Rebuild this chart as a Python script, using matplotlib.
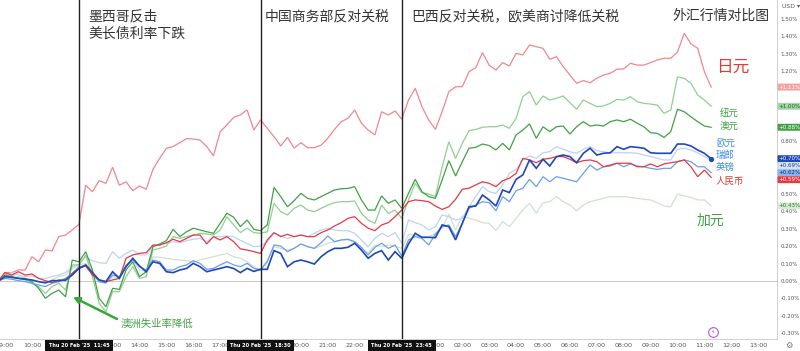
import matplotlib
matplotlib.use("Agg")
import matplotlib.pyplot as plt
from matplotlib.transforms import blended_transform_factory

plt.rcParams['font.family'] = ['Noto Sans CJK SC', 'DejaVu Sans']

# 15-minute closes, % change since 08:45 Thu 20 Feb 2025 (hours counted from 09:00)
t0 = -0.25
step = 0.25

jpy = [0, 0.048, 0.048, 0.063, 0.063, 0.139, 0.11, 0.177, 0.173, 0.254, 0.263, 0.292, 0.324, 0.548, 0.511,
       0.574, 0.559, 0.651, 0.548, 0.568, 0.517, 0.544, 0.525, 0.639, 0.702, 0.76, 0.77, 0.792, 0.815, 0.813,
       0.807, 0.769, 0.716, 0.855, 0.893, 0.937, 0.95, 0.979,
       0.864, 0.922, 0.874, 0.826, 0.773, 0.822, 0.76, 0.792, 0.763, 0.763, 0.778, 0.817, 0.868, 0.912, 0.931,
       0.979, 0.903, 0.864, 0.836, 0.969, 0.95, 0.973, 0.927, 1.036, 1.103, 0.998, 0.922, 0.868, 0.969, 1.084,
       1.112, 1.112, 1.198, 1.221, 1.307,
       1.235, 1.208, 1.25, 1.231, 1.303, 1.294, 1.351, 1.341, 1.332, 1.269, 1.284, 1.227, 1.179, 1.132, 1.147,
       1.135, 1.16, 1.179, 1.189, 1.212, 1.214, 1.246, 1.236, 1.236, 1.25, 1.265, 1.275, 1.275, 1.311, 1.418,
       1.357, 1.332, 1.198, 1.11]
nzd = [0, 0.025, 0.021, 0.015, 0.006, -0.013, -0.032, -0.071, -0.032, -0.013, -0.052, 0.092, 0.092, 0.149, 0.025,
       -0.128, -0.176, -0.061, -0.061, 0.025, 0.082, 0.015, 0.025, 0.177, 0.187, 0.2, 0.254, 0.244, 0.254, 0.263,
       0.273, 0.269, 0.263, 0.292, 0.368, 0.321, 0.277, 0.302,
       0.277, 0.273, 0.282, 0.445, 0.397, 0.378, 0.416, 0.435, 0.406, 0.397, 0.416, 0.435, 0.448, 0.454, 0.454,
       0.458, 0.387, 0.349, 0.33, 0.435, 0.387, 0.406, 0.359, 0.464, 0.559, 0.505, 0.498, 0.483, 0.654, 0.797,
       0.702, 0.788, 0.86, 0.868, 0.88,
       0.883, 0.883, 0.893, 0.874, 0.931, 1.055, 1.084, 1.007, 1.059, 1.036, 1.046, 1.059, 1.021, 0.983, 1.036,
       1.017, 0.998, 1.002, 1.017, 1.04, 1.036, 1.055, 1.026, 1.017, 1.013, 1.007, 0.96, 0.979, 1.169, 1.16,
       1.132, 1.065, 1.036, 1.0]
aud = [0, 0.034, 0.025, 0.015, 0.015, -0.004, -0.042, -0.099, -0.071, -0.052, -0.09, 0.12, 0.11, 0.168, 0.063,
       -0.099, -0.147, -0.042, -0.048, 0.063, 0.11, 0.025, 0.053, 0.196, 0.212, 0.231, 0.296, 0.254, 0.282, 0.302,
       0.292, 0.282, 0.273, 0.33, 0.388, 0.365, 0.311, 0.349,
       0.296, 0.288, 0.321, 0.536, 0.483, 0.425, 0.46, 0.502, 0.473, 0.464, 0.483, 0.502, 0.521, 0.528, 0.53,
       0.54, 0.464, 0.406, 0.406, 0.487, 0.445, 0.464, 0.416, 0.502, 0.582, 0.511, 0.483, 0.473, 0.578, 0.689,
       0.601, 0.683, 0.76, 0.765, 0.784,
       0.775, 0.75, 0.788, 0.75, 0.836, 0.864, 0.899, 0.817, 0.883, 0.855, 0.883, 0.887, 0.841, 0.883, 0.912,
       0.887, 0.893, 0.887, 0.912, 0.922, 0.912, 0.926, 0.903, 0.883, 0.849, 0.845, 0.822, 0.855, 0.983, 0.969,
       0.94, 0.912, 0.887, 0.88]
cad = [0, 0.025, 0.034, 0.025, 0.015, 0.006, -0.004, -0.013, 0.006, 0.025, 0.034, 0.072, 0.092, 0.101, 0.053,
       -0.004, -0.013, 0.025, 0.015, 0.082, 0.12, 0.063, 0.053, 0.139, 0.135, 0.13, 0.124, 0.12, 0.116, 0.11,
       0.12, 0.13, 0.139, 0.149, 0.158, 0.139, 0.13, 0.11,
       0.082, 0.063, 0.12, 0.196, 0.187, 0.177, 0.187, 0.212, 0.2, 0.187, 0.2, 0.216, 0.225, 0.235, 0.235,
       0.219, 0.187, 0.159, 0.206, 0.196, 0.206, 0.2, 0.187, 0.269, 0.258, 0.254, 0.254, 0.273, 0.302, 0.384,
       0.292, 0.372, 0.359, 0.349, 0.334,
       0.33, 0.288, 0.34, 0.311, 0.359, 0.406, 0.445, 0.388, 0.448, 0.454, 0.483, 0.454, 0.435, 0.402, 0.435,
       0.454, 0.464, 0.473, 0.483, 0.483, 0.483, 0.479, 0.473, 0.468, 0.464, 0.448, 0.429, 0.425, 0.498, 0.487,
       0.479, 0.464, 0.464, 0.43]
cny = [0, 0.048, 0.034, 0.053, 0.034, 0.04, 0.015, 0.002, -0.01, 0.006, 0.002, 0.044, 0.072, 0.086, 0.034,
       0.006, -0.004, 0.006, 0.015, 0.13, 0.149, 0.158, 0.162, 0.206, 0.206, 0.219, 0.239, 0.225, 0.244, 0.263,
       0.263, 0.212, 0.254, 0.235, 0.254, 0.225, 0.184, 0.177,
       0.168, 0.158, 0.235, 0.277, 0.254, 0.267, 0.254, 0.263, 0.254, 0.254, 0.277, 0.292, 0.315, 0.334, 0.359,
       0.368, 0.33, 0.302, 0.288, 0.321, 0.334, 0.368, 0.406, 0.454, 0.464, 0.46, 0.454, 0.429, 0.41, 0.425,
       0.468, 0.525, 0.531, 0.55, 0.568,
       0.559, 0.54, 0.574, 0.588, 0.616, 0.702, 0.693, 0.677, 0.697, 0.702, 0.712, 0.712, 0.697, 0.677, 0.689,
       0.693, 0.683, 0.654, 0.664, 0.674, 0.674, 0.674, 0.654, 0.654, 0.67, 0.654, 0.67, 0.677, 0.683, 0.693,
       0.654, 0.597, 0.635, 0.594]
eur = [0, 0.025, 0.021, 0.015, 0.01, 0.006, -0.004, -0.01, 0.002, 0.002, 0.006, 0.034, 0.072, 0.092, 0.048,
       0.006, -0.004, 0.053, 0.015, 0.082, 0.13, 0.086, 0.053, 0.11, 0.101, 0.053, 0.048, 0.063, 0.072, 0.101,
       0.082, 0.053, 0.063, 0.072, 0.082, 0.072, 0.048, 0.072,
       0.055, 0.067, 0.067, 0.174, 0.158, 0.082, 0.11, 0.12, 0.11, 0.097, 0.139, 0.168, 0.187, 0.187, 0.193,
       0.216, 0.177, 0.13, 0.158, 0.174, 0.12, 0.168, 0.13, 0.212, 0.273, 0.25, 0.25, 0.248, 0.321, 0.311,
       0.235, 0.33, 0.425, 0.429, 0.492,
       0.464, 0.429, 0.521, 0.506, 0.582, 0.607, 0.693, 0.645, 0.697, 0.658, 0.712, 0.721, 0.712, 0.677, 0.731,
       0.76, 0.721, 0.731, 0.734, 0.769, 0.754, 0.769, 0.765, 0.76, 0.734, 0.731, 0.731, 0.731, 0.784, 0.784,
       0.773, 0.75, 0.731, 0.70]
gbp = [0, 0.015, 0.01, 0.002, -0.004, -0.013, -0.023, -0.032, -0.013, -0.004, 0.015, 0.044, 0.082, 0.086, 0.044,
       -0.004, -0.01, 0.034, 0.025, 0.092, 0.12, 0.082, 0.063, 0.12, 0.11, 0.063, 0.063, 0.082, 0.092, 0.116,
       0.101, 0.067, 0.072, 0.092, 0.11, 0.092, 0.082, 0.101,
       0.073, 0.063, 0.11, 0.206, 0.2, 0.168, 0.187, 0.212, 0.196, 0.187, 0.219, 0.258, 0.225, 0.235, 0.239,
       0.225, 0.193, 0.149, 0.193, 0.216, 0.187, 0.206, 0.143, 0.235, 0.254, 0.244, 0.206, 0.269, 0.311, 0.321,
       0.254, 0.33, 0.416, 0.435, 0.454,
       0.448, 0.402, 0.483, 0.454, 0.517, 0.531, 0.582, 0.54, 0.597, 0.568, 0.597, 0.588, 0.578, 0.568, 0.616,
       0.664, 0.635, 0.654, 0.658, 0.674, 0.654, 0.67, 0.658, 0.654, 0.645, 0.639, 0.645, 0.645, 0.683, 0.693,
       0.683, 0.654, 0.654, 0.62]
chf = [0, 0.034, 0.048, 0.034, 0.025, 0.029, 0.015, 0.015, 0.025, 0.034, 0.048, 0.082, 0.092, 0.139, 0.116,
       0.105, 0.101, 0.168, 0.13, 0.158, 0.177, 0.149, 0.149, 0.2, 0.206, 0.216, 0.225, 0.219, 0.231, 0.239,
       0.244, 0.225, 0.254, 0.254, 0.258, 0.254, 0.233, 0.215,
       0.196, 0.2, 0.225, 0.273, 0.258, 0.244, 0.254, 0.263, 0.254, 0.273, 0.292, 0.302, 0.292, 0.288, 0.288,
       0.273, 0.235, 0.196, 0.244, 0.273, 0.254, 0.277, 0.216, 0.349, 0.334, 0.321, 0.292, 0.311, 0.378, 0.368,
       0.349, 0.359, 0.425, 0.483, 0.54,
       0.511, 0.502, 0.55, 0.616, 0.639, 0.693, 0.716, 0.702, 0.734, 0.74, 0.769, 0.754, 0.74, 0.731, 0.754,
       0.769, 0.746, 0.74, 0.734, 0.734, 0.734, 0.734, 0.731, 0.721, 0.712, 0.702, 0.693, 0.693, 0.754, 0.76,
       0.75, 0.734, 0.712, 0.693]

# news events (hours from 09:00 Thu)
event_hours = [2.75, 9.5, 14.75]
event_tags = ["Thu 20 Feb '25  11:45", "Thu 20 Feb '25  18:30", "Thu 20 Feb '25  23:45"]

# name, values, line colour, width, tag bg, tag fg (drawing order)
series = [
    ("日元", jpy, "#f0868e", 0.9, "#f4a3a3", "white"),
    ("加元", cad, "#cfe2cf", 0.9, "#d4ecd4", "#2e6b2e"),
    ("瑞郎", chf, "#bcd3f5", 0.9, "#d6e4f8", "#1f3f7a"),
    ("纽元", nzd, "#8fd08f", 0.9, "#a5d6a7", "#1b5e20"),
    ("澳元", aud, "#43a047", 0.9, "#43a047", "white"),
    ("英镑", gbp, "#6a9ee8", 0.9, "#8ab4f0", "#0d2d6b"),
    ("人民币", cny, "#e53945", 0.9, "#e53945", "white"),
    ("欧元", eur, "#1f48b8", 1.2, "#1f48b8", "white"),
]

W, H = 800, 351
fig = plt.figure(figsize=(8, 3.51), dpi=100)
ax = fig.add_axes([0, 12 / H, 777 / W, 339 / H])

times = [t0 + step * i for i in range(len(jpy))]
for name, vals, color, lw, _, _ in series:
    ax.plot(times, vals, color=color, lw=lw, solid_joinstyle='miter')
ax.plot(times[-1], eur[-1], 'o', color="#1f48b8", ms=2.8)

ax.axhline(0, color="#c8c8c8", lw=0.7, zorder=0)
for h in event_hours:
    ax.axvline(h, color="#222222", lw=1.0, zorder=5)

ax.set_xlim(-5 / 26.9, 772 / 26.9)
ax.set_ylim(-58 / 174.7, 281 / 174.7)

# last-value tag positions, pushed apart when they overlap
tag_pos = []
prev = None
for s in sorted(series, key=lambda s: -s[1][-1]):
    y = s[1][-1]
    if prev is not None and prev - y < 0.04:
        y = prev - 0.04
    prev = y
    tag_pos.append((s, y))

# right price scale (labels under a tag are hidden, as on the original)
ax.yaxis.tick_right()
yt = [i / 10 for i in range(-3, 16)]
ax.set_yticks(yt)
ylabels = []
for v in yt:
    covered = any(abs(v - p) < 0.028 for _, p in tag_pos)
    ylabels.append("" if covered else f"{v:.2f}%")
ax.set_yticklabels(ylabels, fontsize=4.0, color="#555555", family="DejaVu Sans")
ax.tick_params(axis='y', length=0, pad=2.5)

# time scale (labels hidden under the black event tags are left out)
xt = list(range(0, 29))
ax.set_xticks(xt)
xlabels = []
for h in xt:
    hidden = any(abs(h - e) < 1.0 for e in event_hours)
    xlabels.append("" if hidden else f"{(9 + h) % 24:02d}:00")
ax.set_xticklabels(xlabels, fontsize=4.6, color="#555555", family="DejaVu Sans")
ax.tick_params(axis='x', length=0, pad=3)

for s in ["top", "left"]:
    ax.spines[s].set_visible(False)
ax.spines["right"].set_color("#d0d0d0")
ax.spines["bottom"].set_color("#d0d0d0")
ax.spines["right"].set_linewidth(0.7)
ax.spines["bottom"].set_linewidth(0.7)

# black time tags over the x axis at each event line
xtrans = blended_transform_factory(ax.transData, ax.transAxes)
for h, tag in zip(event_hours, event_tags):
    ax.text(h, -0.0205, tag, transform=xtrans, ha='center', va='center', fontsize=3.6, color='white',
            family="DejaVu Sans", fontweight='bold', clip_on=False, zorder=10,
            bbox=dict(boxstyle='square,pad=0.7', fc='#111111', ec='none'))

ytrans = blended_transform_factory(ax.transAxes, ax.transData)
for s, y in tag_pos:
    ax.text(1.002, y, f"+{s[1][-1]:.2f}%", transform=ytrans, ha='left', va='center', fontsize=4.0,
            color=s[5], family="DejaVu Sans", clip_on=False, zorder=10,
            bbox=dict(boxstyle='round,pad=0.18,rounding_size=0.15', fc=s[4], ec='none'))

fig.text(782 / W, 1 - 7 / H, "USD ▾", fontsize=4.4, color="#555555", va='center', ha='left', family="DejaVu Sans")
fig.text(789 / W, 1 - 345 / H, "⚙", fontsize=6, color="#777777", va='center', ha='center', family="DejaVu Sans")


def put(x, y, s, **kw):
    fig.text(x / W, 1 - y / H, s, va='center', ha='left', **kw)


# headlines
put(88, 16, "墨西哥反击", fontsize=10, color="#333333")
put(88, 34, "美长债利率下跌", fontsize=10, color="#333333")
put(265, 16, "中国商务部反对关税", fontsize=10, color="#333333")
put(411, 16, "巴西反对关税，欧美商讨降低关税", fontsize=10, color="#333333")
put(672, 16, "外汇行情对比图", fontsize=10, color="#333333")

# currency names next to line ends
put(716, 67, "日元", fontsize=12, color="#e53935")
put(720, 113, "纽元", fontsize=6.8, color="#43a047")
put(720, 127, "澳元", fontsize=6.8, color="#43a047")
put(716, 143, "欧元", fontsize=6.8, color="#3b8beb")
put(716, 155, "瑞郎", fontsize=6.8, color="#3b8beb")
put(716, 167, "英镑", fontsize=6.8, color="#3b8beb")
put(716, 181, "人民币", fontsize=6.8, color="#e53935")
put(697, 221, "加元", fontsize=10, color="#43a047")

# Australian jobs note with arrow
put(121, 324, "澳洲失业率降低", fontsize=7.5, color="#43a047")
ax.annotate("", xy=(68 / 26.9, -16 / 174.7), xytext=(112 / 26.9, -38 / 174.7),
            arrowprops=dict(arrowstyle='-|>', color="#3aa63a", lw=1.8, mutation_scale=9,
                            shrinkA=0, shrinkB=0), zorder=6)

# alert icon near bottom
ax.plot(708 / 26.9, -51 / 174.7, 'o', ms=7, mfc='none', mec="#b05cd6", mew=0.8, clip_on=False)
ax.text(708 / 26.9, -51 / 174.7, "⚡", fontsize=4.5, color="#b05cd6", ha='center', va='center',
        family="DejaVu Sans", clip_on=False)

fig.savefig("out.png", dpi=100, facecolor="white")
